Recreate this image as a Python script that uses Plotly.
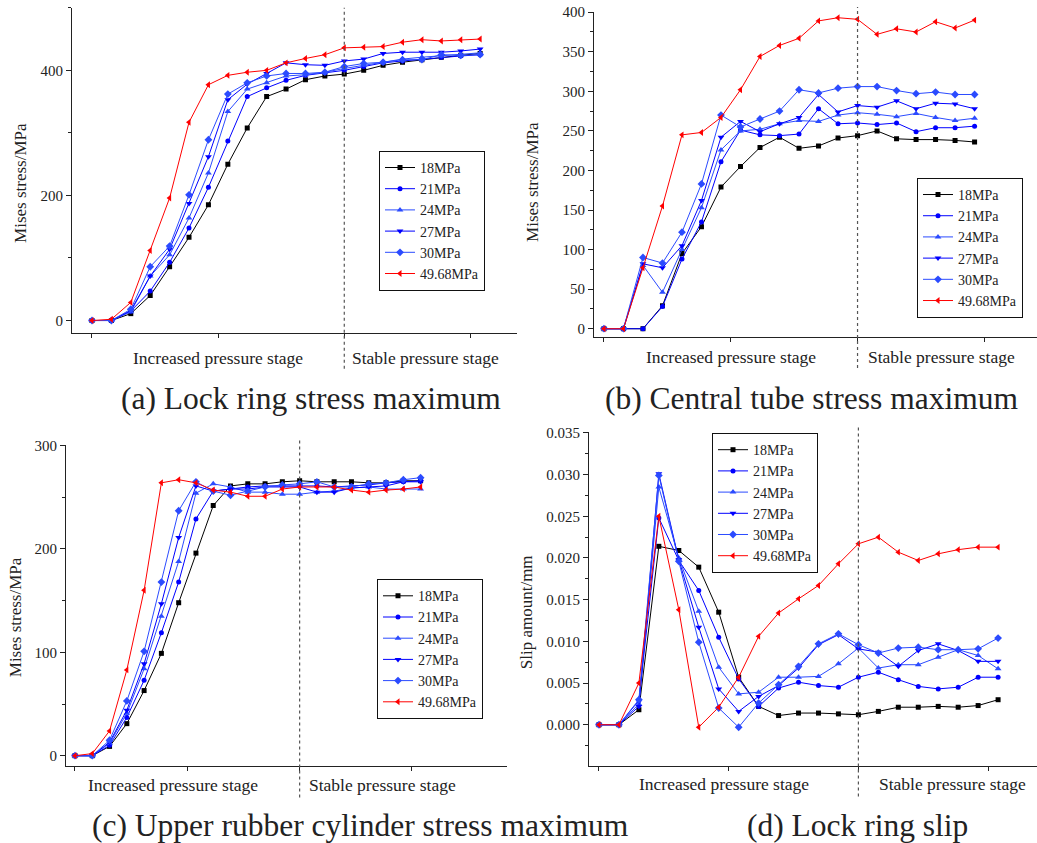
import plotly.graph_objects as go

# ---------------- data ----------------
steps_a = list(range(21))
steps_b = list(range(20))
steps_c = list(range(21))
steps_d = list(range(21))

series_names = ["18MPa", "21MPa", "24MPa", "27MPa", "30MPa", "49.68MPa"]
tick_positions = [0, 6.5, 13, 19.5]
stage_labels = ["Increased pressure stage", "Stable pressure stage"]
captions = ["(a) Lock ring stress maximum", "(b) Central tube stress maximum",
            "(c) Upper rubber cylinder stress maximum", "(d) Lock ring slip"]
y_titles = ["Mises stress/MPa", "Mises stress/MPa", "Mises stress/MPa", "Slip amount/mm"]
stage_split = 13

a_18 = [0, 0, 11, 40, 86, 133, 185, 250, 308, 358, 370, 385, 391, 394, 400, 408, 413, 417, 421, 424, 427]
a_21 = [0, 0, 15, 47, 93, 148, 213, 287, 358, 372, 384, 392, 396, 400, 406, 412, 415, 418, 421, 423, 425]
a_24 = [0, 0, 14, 71, 105, 164, 236, 334, 370, 380, 391, 393, 397, 403, 408, 413, 418, 421, 423, 425, 428]
a_27 = [0, 0, 16, 71, 114, 187, 262, 353, 378, 395, 412, 409, 408, 415, 418, 427, 429, 429, 429, 431, 434]
a_30 = [0, 0, 18, 86, 119, 201, 289, 362, 380, 391, 395, 395, 397, 406, 411, 413, 417, 417, 425, 424, 425]
a_49 = [0, 2, 29, 112, 196, 317, 377, 392, 397, 400, 412, 419, 425, 436, 437, 438, 445, 449, 447, 449, 450]

b_18 = [0, 0, 0, 29, 95, 129, 179, 205, 229, 242, 228, 231, 241, 244, 250, 240, 239, 239, 238, 236]
b_21 = [0, 0, 0, 28, 88, 135, 211, 251, 245, 244, 246, 278, 259, 260, 258, 260, 249, 254, 254, 256]
b_24 = [0, 0, 80, 46, 100, 153, 226, 250, 252, 259, 263, 262, 270, 273, 271, 268, 272, 267, 263, 266]
b_27 = [0, 0, 82, 77, 105, 162, 242, 262, 249, 259, 267, 296, 274, 282, 280, 288, 278, 285, 284, 278]
b_30 = [0, 0, 90, 83, 122, 183, 270, 255, 265, 275, 302, 298, 304, 306, 306, 301, 297, 299, 296, 296]
b_49 = [0, 0, 77, 155, 245, 248, 267, 302, 344, 358, 367, 389, 393, 391, 372, 379, 375, 388, 380, 390]

c_18 = [0, 0, 9, 31, 63, 99, 148, 196, 242, 261, 263, 263, 265, 266, 265, 265, 265, 264, 264, 266, 266]
c_21 = [0, 0, 10, 37, 73, 119, 168, 229, 256, 258, 260, 261, 261, 261, 261, 260, 261, 262, 264, 265, 266]
c_24 = [0, 0, 12, 41, 84, 135, 188, 254, 263, 260, 255, 255, 253, 253, 255, 256, 259, 260, 258, 258, 258]
c_27 = [0, 0, 13, 44, 89, 147, 211, 261, 256, 258, 258, 260, 260, 260, 255, 255, 259, 260, 261, 265, 265]
c_30 = [0, 0, 15, 53, 101, 168, 237, 265, 256, 252, 256, 260, 262, 263, 265, 260, 260, 263, 264, 267, 269]
c_49 = [0, 2, 24, 83, 160, 264, 267, 264, 257, 255, 251, 251, 258, 260, 260, 260, 257, 255, 257, 258, 260]

d_18 = [0, 0, 0.0018, 0.0214, 0.0209, 0.0189, 0.0135, 0.0057, 0.0022, 0.0011, 0.0014, 0.0014, 0.0013,
        0.0012, 0.0016, 0.0021, 0.0021, 0.0022, 0.0021, 0.0023, 0.0030]
d_21 = [0, 0, 0.0029, 0.0248, 0.0197, 0.0161, 0.0105, 0.0055, 0.0022, 0.0044, 0.0051, 0.0047, 0.0045,
        0.0057, 0.0063, 0.0054, 0.0046, 0.0043, 0.0045, 0.0057, 0.0057]
d_24 = [0, 0, 0.0025, 0.0285, 0.0200, 0.0136, 0.0069, 0.0037, 0.0039, 0.0057, 0.0057, 0.0058, 0.0073,
        0.0092, 0.0068, 0.0072, 0.0072, 0.0081, 0.0090, 0.0083, 0.0067]
d_27 = [0, 0, 0.0022, 0.0301, 0.0198, 0.0117, 0.0043, 0.0016, 0.0034, 0.0047, 0.0068, 0.0096, 0.0108,
        0.0091, 0.0087, 0.0070, 0.0089, 0.0097, 0.0089, 0.0076, 0.0076]
d_30 = [0, 0, 0.0030, 0.0299, 0.0196, 0.0099, 0.0020, -0.0003, 0.0026, 0.0048, 0.0070, 0.0097, 0.0109,
        0.0096, 0.0086, 0.0092, 0.0093, 0.0090, 0.0090, 0.0091, 0.0104]
d_49 = [0, 0, 0.0050, 0.0250, 0.0138, -0.0003, 0.0021, 0.0057, 0.0106, 0.0134, 0.0151, 0.0167, 0.0193,
        0.0217, 0.0225, 0.0207, 0.0197, 0.0205, 0.0210, 0.0213, 0.0213]

# ---------------- styles / layout ----------------
FONT = "Liberation Serif"
W, H = 1037, 843
colors = ["#000000", "#0000FF", "#2B4BFF", "#0000FF", "#2B4BFF", "#FF0000"]
symbols = ["square", "circle", "triangle-up", "triangle-down", "diamond", "triangle-left"]
msizes = [5, 5, 6, 6, 6, 6]

# map a target on-screen pixel to paper coordinates (the page is shown slightly scaled vertically)
SX, OX, SY, OY = 1.0, 0.0, 0.991, 7.2


def px(rx):
    return min(1.0, max(0.0, (rx - OX) / SX / W))


def py(ry):
    return min(1.0, max(0.0, 1 - (ry - OY) / SY / H))


panels = [
    dict(steps=steps_a, series=[a_18, a_21, a_24, a_27, a_30, a_49], xa="x", ya="y", leg="legend",
         xpx=(72, 517), ypx=(8, 333), xr=[-1.03, 21.9], yr=[-20, 500], dt=200, mdt=100,
         fmt="d", legpx=(379, 151), vy=(-0.11, 1.0), sy=-0.077, sx=(6.5, 17.2),
         cap=(311, 398), ttl=(21, 183)),
    dict(steps=steps_b, series=[b_18, b_21, b_24, b_27, b_30, b_49], xa="x2", ya="y2", leg="legend2",
         xpx=(594, 1037), ypx=(12, 337), xr=[-0.51, 22.2], yr=[-10.5, 400.5], dt=50, mdt=25,
         fmt="d", legpx=(917, 178), vy=(-0.095, 1.015), sy=-0.062, sx=(6.5, 17.3),
         cap=(811, 398), ttl=(533, 182)),
    dict(steps=steps_c, series=[c_18, c_21, c_24, c_27, c_30, c_49], xa="x3", ya="y3", leg="legend3",
         xpx=(66, 507), ypx=(445, 766), xr=[-0.52, 25.0], yr=[-10.3, 300.5], dt=100, mdt=50,
         fmt="d", legpx=(377, 579), vy=(-0.097, 1.016), sy=-0.059, sx=(5.7, 17.8),
         cap=(360, 825), ttl=(15, 617)),
    dict(steps=steps_d, series=[d_18, d_21, d_24, d_27, d_30, d_49], xa="x4", ya="y4", leg="legend4",
         xpx=(589, 1037), ypx=(432, 766), xr=[-0.5, 21.95], yr=[-0.00499, 0.0351], dt=0.005,
         mdt=0.0025, fmt=".3f", legpx=(712, 433), vy=(-0.09, 1.02), sy=-0.054, sx=(6.27, 17.7),
         cap=(857, 825), ttl=(526, 612)),
]

fig = go.Figure()
layout = dict(width=W, height=H, margin=dict(l=0, r=0, t=0, b=0),
              paper_bgcolor="white", plot_bgcolor="white",
              font=dict(family=FONT, color="#222"), showlegend=True)
shapes = []
annotations = []

for i, p in enumerate(panels):
    for name, vals, col, sym, ms in zip(series_names, p["series"], colors, symbols, msizes):
        fig.add_trace(go.Scatter(
            x=p["steps"], y=vals, name=name, mode="lines+markers",
            line=dict(color=col, width=1), marker=dict(symbol=sym, size=ms, color=col),
            xaxis=p["xa"], yaxis=p["ya"], legend=p["leg"]))
    xkey = "xaxis" if i == 0 else f"xaxis{i+1}"
    ykey = "yaxis" if i == 0 else f"yaxis{i+1}"
    layout[xkey] = dict(domain=[px(p["xpx"][0]), px(p["xpx"][1])], range=p["xr"], anchor=p["ya"],
                        showline=True, linecolor="#222", linewidth=1.2, ticks="outside", ticklen=4,
                        tickcolor="#222", tickvals=tick_positions, showticklabels=False,
                        showgrid=False, zeroline=False)
    layout[ykey] = dict(domain=[py(p["ypx"][1]), py(p["ypx"][0])], range=p["yr"], anchor=p["xa"],
                        showline=True, linecolor="#222", linewidth=1.2, ticks="outside", ticklen=5,
                        tickcolor="#222", tick0=0, dtick=p["dt"], tickformat=p["fmt"],
                        tickfont=dict(size=15, family=FONT, color="#222"),
                        minor=dict(ticks="outside", ticklen=3, dtick=p["mdt"], tick0=0,
                                   tickcolor="#222", showgrid=False),
                        showgrid=False, zeroline=False)
    layout[p["leg"]] = dict(x=px(p["legpx"][0]), y=py(p["legpx"][1]), xanchor="left", yanchor="top",
                            xref="paper", yref="paper",
                            bordercolor="#111", borderwidth=1, bgcolor="white",
                            font=dict(size=14, family=FONT, color="#222"),
                            tracegroupgap=0, itemwidth=30)
    shapes.append(dict(type="line", xref=p["xa"], yref=f"{p['ya']} domain",
                       x0=stage_split, x1=stage_split, y0=p["vy"][0], y1=p["vy"][1],
                       line=dict(color="#555", width=1.2, dash="dot")))
    for lbl, sx in zip(stage_labels, p["sx"]):
        annotations.append(dict(text=lbl, xref=p["xa"], yref=f"{p['ya']} domain", x=sx, y=p["sy"],
                                xanchor="center", yanchor="middle", showarrow=False,
                                font=dict(size=17.5, family=FONT, color="#222")))
    annotations.append(dict(text=captions[i], xref="paper", yref="paper",
                            x=px(p["cap"][0]), y=py(p["cap"][1]),
                            xanchor="center", yanchor="middle", showarrow=False,
                            font=dict(size=31.5, family=FONT, color="#222")))
    annotations.append(dict(text=y_titles[i], xref="paper", yref="paper",
                            x=px(p["ttl"][0]), y=py(p["ttl"][1]),
                            xanchor="center", yanchor="middle", textangle=-90, showarrow=False,
                            font=dict(size=17, family=FONT, color="#222")))

layout["shapes"] = shapes
layout["annotations"] = annotations
fig.update_layout(**layout)
fig.write_html("out.html", config={"displayModeBar": False},
               post_script="document.body.style.margin='0';document.body.style.overflow='hidden';")
